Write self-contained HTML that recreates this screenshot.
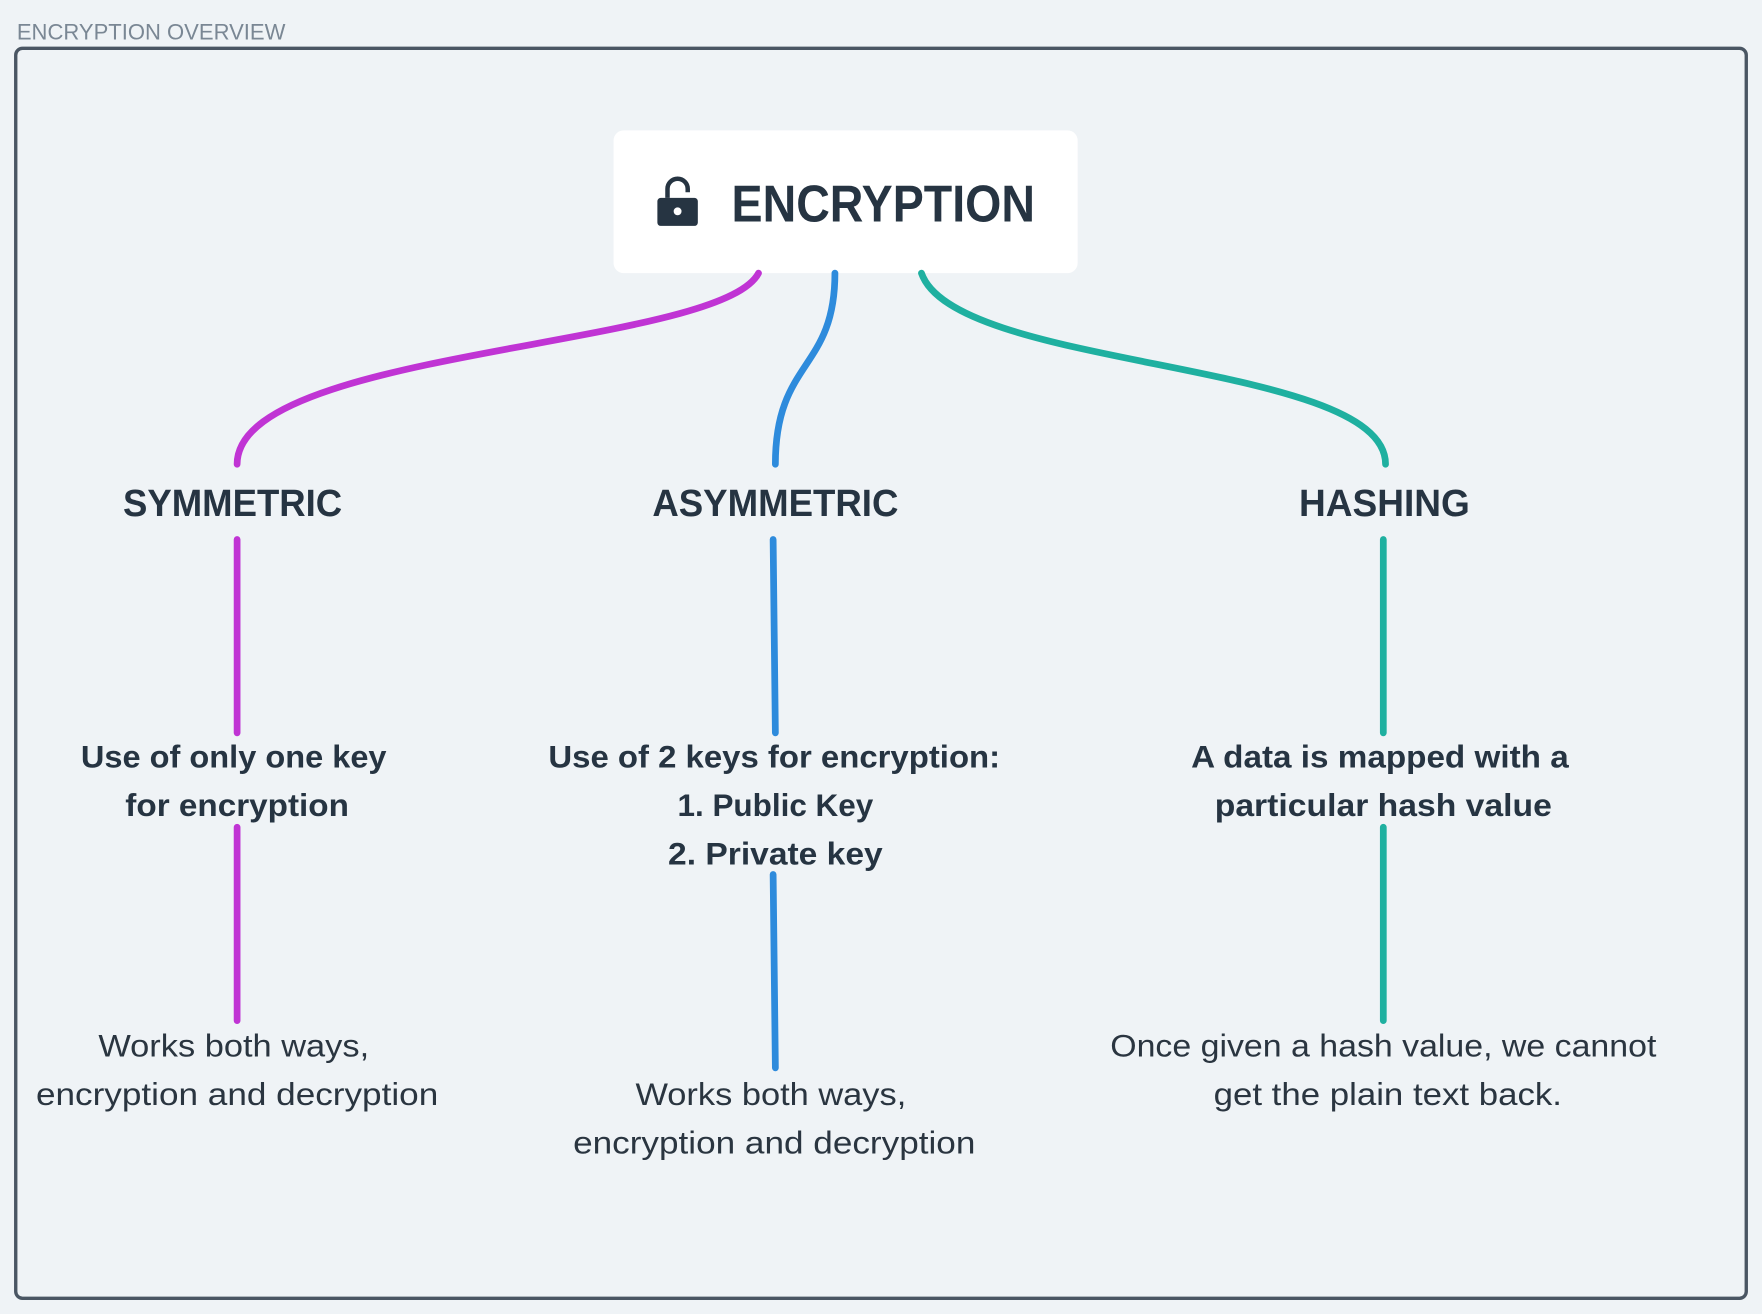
<!DOCTYPE html>
<html><head><meta charset="utf-8"><style>
html,body{margin:0;padding:0;background:#eff3f6;}
svg{display:block;}
</style></head><body>
<svg width="1762" height="1314" viewBox="0 0 1568 1169" preserveAspectRatio="none" xmlns="http://www.w3.org/2000/svg" font-family="Liberation Sans, sans-serif">
<rect width="1568" height="1169" fill="#eff3f6"/>
<text x="15" y="35" font-size="20" fill="#7a8794" textLength="239" lengthAdjust="spacingAndGlyphs">ENCRYPTION OVERVIEW</text>
<rect x="14" y="43" width="1540" height="1112" rx="6" fill="none" stroke="#4a5663" stroke-width="3"/>
<rect x="546" y="116" width="413" height="127" rx="9" fill="#ffffff"/>
<g fill="#263442">
<path d="M594,176 v-8 a9,9 0 0 1 18,0 v3" fill="none" stroke="#263442" stroke-width="4"/>
<rect x="585" y="176" width="36" height="25" rx="3"/>
</g>
<circle cx="603" cy="188" r="3.5" fill="#fff"/>
<text x="651" y="197" font-size="46" font-weight="bold" fill="#263442" textLength="270" lengthAdjust="spacingAndGlyphs">ENCRYPTION</text>
<g fill="none" stroke-width="6" stroke-linecap="round">
<path d="M675,243 C640,310 211,310 211,413" stroke="#c034d4"/>
<path d="M743,243 C743,330 690,320 690,413" stroke="#2e8bdc"/>
<path d="M820,243 C850,330 1233,320 1233,413" stroke="#1fb0a0"/>
<path d="M211,480 V652 M211,736 V908" stroke="#c034d4"/>
<path d="M688,480 L690,652 M688,778 L690,950" stroke="#2e8bdc"/>
<path d="M1231,480 V652 M1231,736 V908" stroke="#1fb0a0"/>
</g>
<g font-size="34" font-weight="bold" fill="#263442" text-anchor="middle">
<text x="207" y="459" textLength="195" lengthAdjust="spacingAndGlyphs">SYMMETRIC</text>
<text x="690" y="459" textLength="219" lengthAdjust="spacingAndGlyphs">ASYMMETRIC</text>
<text x="1232" y="459" textLength="152" lengthAdjust="spacingAndGlyphs">HASHING</text>
</g>
<g font-size="28" font-weight="bold" fill="#263442" text-anchor="middle">
<text x="208" y="683" textLength="272" lengthAdjust="spacingAndGlyphs">Use of only one key</text>
<text x="211" y="726" textLength="199" lengthAdjust="spacingAndGlyphs">for encryption</text>
<text x="689" y="683" textLength="402" lengthAdjust="spacingAndGlyphs">Use of 2 keys for encryption:</text>
<text x="690" y="726">1. Public Key</text>
<text x="690" y="769" textLength="191" lengthAdjust="spacingAndGlyphs">2. Private key</text>
<text x="1228" y="683" textLength="336" lengthAdjust="spacingAndGlyphs">A data is mapped with a</text>
<text x="1231" y="726" textLength="300" lengthAdjust="spacingAndGlyphs">particular hash value</text>
</g>
<g font-size="28" fill="#2a3540" text-anchor="middle">
<text x="208" y="940" textLength="241" lengthAdjust="spacingAndGlyphs">Works both ways,</text>
<text x="211" y="983" textLength="358" lengthAdjust="spacingAndGlyphs">encryption and decryption</text>
<text x="686" y="983" textLength="241" lengthAdjust="spacingAndGlyphs">Works both ways,</text>
<text x="689" y="1026" textLength="358" lengthAdjust="spacingAndGlyphs">encryption and decryption</text>
<text x="1231" y="940" textLength="486" lengthAdjust="spacingAndGlyphs">Once given a hash value, we cannot</text>
<text x="1235" y="983" textLength="310" lengthAdjust="spacingAndGlyphs">get the plain text back.</text>
</g>
</svg>
</body></html>
